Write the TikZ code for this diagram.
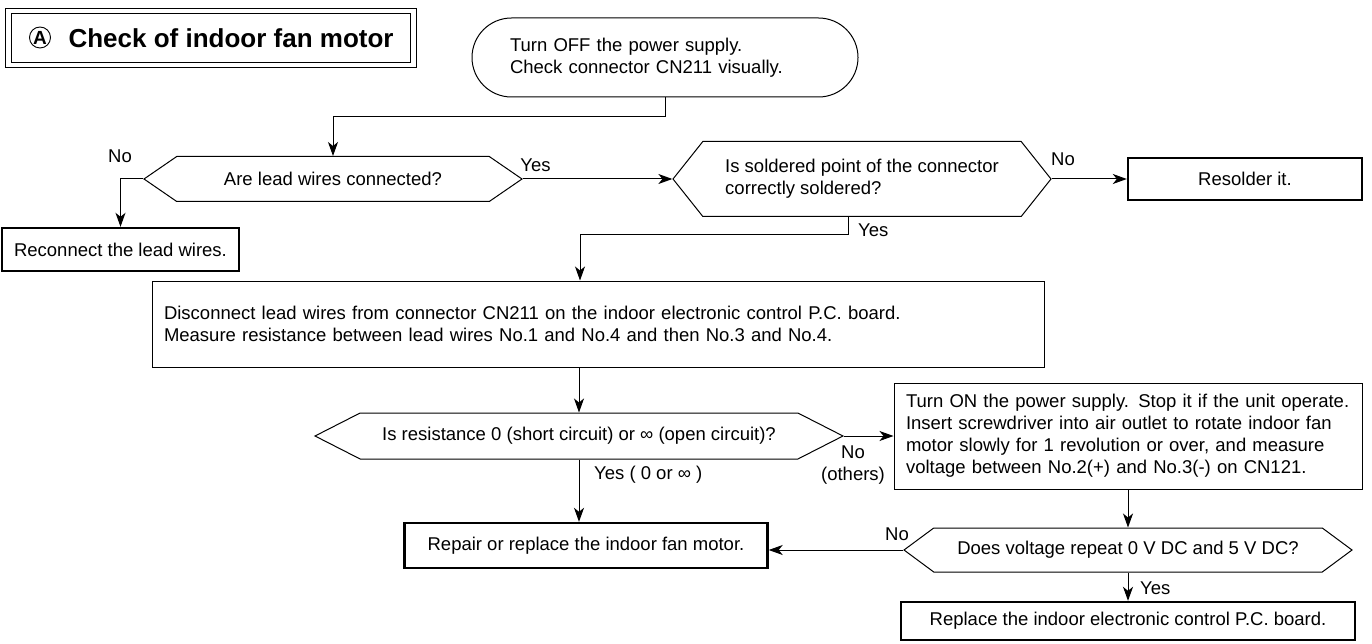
\documentclass[tikz,border=0pt]{standalone}
\usepackage{fontspec}
\setmainfont{Liberation Sans}
\usetikzlibrary{shapes.misc,shapes.symbols,arrows.meta}

\begin{document}
\begin{tikzpicture}[x=1pt, y=1pt,
    font=\fontsize{18.5}{22}\selectfont,
    every node/.style={inner sep=0pt},
    flow/.style={-{Stealth[length=14pt,width=10pt,inset=4pt]}, line width=1pt},
    proc/.style={draw, line width=1pt},
    endbox/.style={draw, line width=2.4pt},
    decide/.style={draw, line width=1pt, signal, signal to=west and east},
    titlebox/.style={draw, double, double distance=4.6pt, line width=1.1pt,
      inner xsep=20pt, minimum height=54pt, font=\fontsize{26}{28}\selectfont\bfseries}
    ]
    \useasboundingbox (0,0) rectangle (1372,-644);

    \node[titlebox, anchor=west] (title) at (8,-38)
      {\hspace{40pt}Check of indoor fan motor};
    \node[draw, circle, line width=0.9pt, minimum size=21pt,
      font=\fontsize{19}{19}\selectfont\bfseries] (circA) at (40,-37.5) {A};
    \node[draw, line width=1pt, rounded rectangle, minimum width=386pt, minimum height=79pt,
      text width=310pt, align=left] (start) at (665,-57.5)
      {Turn OFF the power supply.\\Check connector CN211 visually.};

    \node[decide, minimum width=378pt, minimum height=45pt, signal pointer angle=69]
      (leads) at (333,-179) {Are lead wires connected?};
    \node[decide, minimum width=378pt, minimum height=75pt, signal pointer angle=103, align=left]
      (solder) at (862,-179) {Is soldered point of the connector\\correctly soldered?};
    \node[endbox, minimum width=234pt, minimum height=42pt] (resolder) at (1245,-179) {Resolder it.};
    \node[endbox, minimum width=237pt, minimum height=43pt] (reconnect) at (120.5,-249.5)
      {Reconnect the lead wires.};

    \node[proc, minimum width=892pt, minimum height=86pt, text width=868pt, align=left]
      (measure) at (598,-324)
      {Disconnect lead wires from connector CN211 on the indoor electronic control P.C. board.\\
       Measure resistance between lead wires No.1 and No.4 and then No.3 and No.4.};
    \node[decide, minimum width=528pt, minimum height=46pt, signal pointer angle=54]
      (resist) at (579,-436) {Is resistance 0 (short circuit) or ∞ (open circuit)?};
    \node[proc, minimum width=468pt, minimum height=106pt, text width=444pt, align=left]
      (turnon) at (1128,-436)
      {Turn ON the power supply. Stop it if the unit operate.\\
       Insert screwdriver into air outlet to rotate indoor fan\\
       motor slowly for 1 revolution or over, and measure\\
       voltage between No.2(+) and No.3(-) on CN121.};
    \node[endbox, minimum width=363pt, minimum height=45pt] (repair) at (586,-545.5)
      {Repair or replace the indoor fan motor.};
    \node[decide, minimum width=448pt, minimum height=44pt, signal pointer angle=73]
      (volt) at (1128,-550) {Does voltage repeat 0 V DC and 5 V DC?};
    \node[endbox, minimum width=454pt, minimum height=38pt] (board) at (1128,-621)
      {Replace the indoor electronic control P.C. board.};

    \node (no1) at (120,-156) {No};
    \node (yes1) at (535.5,-165) {Yes};
    \node (no2) at (1063,-159) {No};
    \node[anchor=west] (yes2) at (858,-230) {Yes};
    \node[align=center] (no3) at (853,-465) {No\\(others)};
    \node[anchor=west] (yes3) at (594,-475) {Yes ( 0 or ∞ )};
    \node (no4) at (897,-534) {No};
    \node[anchor=west] (yes4) at (1140,-588) {Yes};

    \draw[flow] (start.south) -- ++(0,-19) -| (leads.north);
    \draw[flow] (leads.west) -| (reconnect.north);
    \draw[flow] (leads.east) -- (solder.west);
    \draw[flow] (solder.east) -- (resolder.west);
    \draw[flow] ([xshift=-14pt]solder.south) -- ++(0,-18) -| ([xshift=-18pt]measure.north);
    \draw[flow] (resist.north |- measure.south) -- (resist.north);
    \draw[flow] (resist.east) -- (turnon.west);
    \draw[flow] (resist.south) -- (resist.south |- repair.north);
    \draw[flow] (turnon.south) -- (volt.north);
    \draw[flow] (volt.west) -- (volt.west -| repair.east);
    \draw[flow] (volt.south) -- (board.north);
\end{tikzpicture}
\end{document}
